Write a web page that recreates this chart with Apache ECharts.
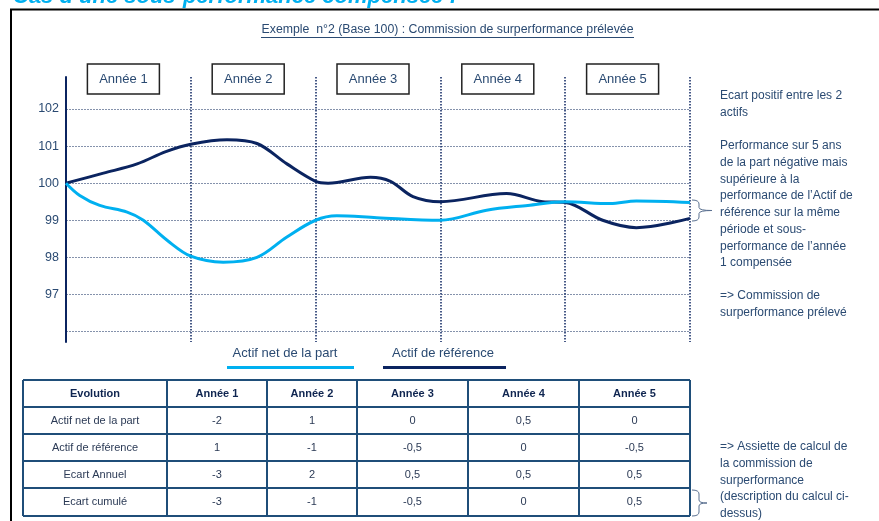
<!DOCTYPE html>
<html>
<head>
<meta charset="utf-8">
<script src="https://cdn.jsdelivr.net/npm/echarts@6/dist/echarts.min.js"></script>
<style>
  html, body { margin: 0; padding: 0; background: #fff; }
  #chart { width: 879px; height: 521px; }
</style>
</head>
<body>
<div id="chart"></div>
<script>
// values (x in years, y in base 100)
const years = ['Année 1', 'Année 2', 'Année 3', 'Année 4', 'Année 5']
const refCurve = [
  [0, 100], [0.3, 100.27], [0.57, 100.52], [0.8, 100.85], [1, 101.05],
  [1.29, 101.17], [1.53, 101.07], [1.77, 100.52], [2, 100.05], [2.1, 100.0],
  [2.44, 100.16], [2.6, 100.05], [2.78, 99.64], [3, 99.5], [3.53, 99.72],
  [3.82, 99.5], [4, 99.48], [4.3, 99.0], [4.57, 98.8], [5, 99.05]
]
const partCurve = [
  [0, 100], [0.11, 99.67], [0.27, 99.4], [0.49, 99.22], [0.62, 99.0],
  [0.81, 98.46], [1, 98.03], [1.26, 97.87], [1.53, 98.0], [1.77, 98.55],
  [2, 99.0], [2.17, 99.12], [2.49, 99.07], [3, 99.0], [3.37, 99.27],
  [3.7, 99.4], [4, 99.5], [4.36, 99.45], [4.57, 99.52], [5, 99.48]
]
const seriesNames = ['Actif net de la part', 'Actif de référence']

const tableHeader = ['Evolution', 'Année 1', 'Année 2', 'Année 3', 'Année 4', 'Année 5']
const rowLabels = ['Actif net de la part', 'Actif de référence', 'Ecart Annuel', 'Ecart cumulé']
const partRow = ['-2', '1', '0', '0,5', '0']
const refRow = ['1', '-1', '-0,5', '0', '-0,5']
const ecartAnnuel = ['-3', '2', '0,5', '0,5', '0,5']
const ecartCumule = ['-3', '-1', '-0,5', '0', '0,5']

const noteTop = ['Ecart positif entre les 2', 'actifs']
const noteMid = [
  'Performance sur 5 ans', 'de la part négative mais', 'supérieure à la',
  'performance de l\u2019Actif de', 'référence sur la même', 'période et sous-',
  'performance de l\u2019année', '1 compensée'
]
const noteEnd = ['=> Commission de', 'surperformance prélevé']
const noteTable = [
  '=> Assiette de calcul de', 'la commission de', 'surperformance',
  '(description du calcul ci-', 'dessus)'
]

const FONT = '"Liberation Sans", Arial, sans-serif'
const LIGHT = '#00B0F0'
const NAVY = '#0B2460'
const SLATE = '#2A4A72'

const chart = echarts.init(document.getElementById('chart'))

const graphics = []

// frame + cut title at the very top
graphics.push({
  type: 'rect', shape: { x: 11, y: 9.5, width: 900, height: 600 },
  style: { fill: 'none', stroke: '#000', lineWidth: 2 }, z: 10
})
graphics.push({
  type: 'text',
  style: { text: 'Cas d\u2019une sous-performance compensée :', x: 13, y: 8,
    font: 'italic bold 22px ' + FONT, fill: LIGHT, verticalAlign: 'bottom' }
})

// chart title, underlined
graphics.push({
  type: 'text',
  style: { text: 'Exemple  n°2 (Base 100) : Commission de surperformance prélevée',
    x: 447.5, y: 30, font: '12.3px ' + FONT, fill: SLATE, align: 'center', verticalAlign: 'middle' }
})
graphics.push({
  type: 'line', shape: { x1: 261, y1: 37.5, x2: 634, y2: 37.5 },
  style: { stroke: SLATE, lineWidth: 1 }
})

// year boxes
years.forEach((y, i) => {
  const cx = 66 + (i + 0.5) * 124.8 - 5
  graphics.push({
    type: 'rect', shape: { x: cx - 36, y: 64, width: 72, height: 30 },
    style: { fill: '#fff', stroke: '#222', lineWidth: 1.5 }
  })
  graphics.push({
    type: 'text',
    style: { text: y, x: cx, y: 79, font: '13px ' + FONT, fill: SLATE, align: 'center', verticalAlign: 'middle' }
  })
})

// legend: text above a thick line
const legendItems = [
  { name: seriesNames[0], color: LIGHT, tx: 285, x1: 227, x2: 354 },
  { name: seriesNames[1], color: NAVY, tx: 443, x1: 383, x2: 506 }
]
legendItems.forEach(it => {
  graphics.push({
    type: 'text',
    style: { text: it.name, x: it.tx, y: 353, font: '13px ' + FONT, fill: SLATE, align: 'center', verticalAlign: 'middle' }
  })
  graphics.push({
    type: 'line', shape: { x1: it.x1, y1: 367.5, x2: it.x2, y2: 367.5 },
    style: { stroke: it.color, lineWidth: 3 }
  })
})

// table
const colX = [23, 167, 267, 357, 468, 579, 690]
const rowY = [380, 407, 434, 461, 488, 516]
const body = [partRow, refRow, ecartAnnuel, ecartCumule]
const TB = '#1F4E79'
rowY.forEach(y => {
  graphics.push({ type: 'line', shape: { x1: colX[0], y1: y, x2: colX[6], y2: y }, style: { stroke: TB, lineWidth: 2 } })
})
colX.forEach(x => {
  graphics.push({ type: 'line', shape: { x1: x, y1: rowY[0], x2: x, y2: rowY[5] }, style: { stroke: TB, lineWidth: 2 } })
})
tableHeader.forEach((h, c) => {
  graphics.push({
    type: 'text',
    style: { text: h, x: (colX[c] + colX[c + 1]) / 2, y: (rowY[0] + rowY[1]) / 2,
      font: 'bold 11px ' + FONT, fill: '#0F2550', align: 'center', verticalAlign: 'middle' }
  })
})
body.forEach((row, r) => {
  const cells = [rowLabels[r]].concat(row)
  cells.forEach((v, c) => {
    graphics.push({
      type: 'text',
      style: { text: v, x: (colX[c] + colX[c + 1]) / 2, y: (rowY[r + 1] + rowY[r + 2]) / 2,
        font: '11px ' + FONT, fill: '#2B3A55', align: 'center', verticalAlign: 'middle' }
    })
  })
})

// side notes
const addLines = (lines, y0) => {
  lines.forEach((t, i) => {
    graphics.push({
      type: 'text',
      style: { text: t, x: 720, y: y0 + i * 16.7, font: '12px ' + FONT, fill: SLATE, verticalAlign: 'middle' }
    })
  })
}
addLines(noteTop, 96)
addLines(noteMid, 146)
addLines(noteEnd, 296)
addLines(noteTable, 447)

// curly braces: top cap, upper stem, tip, lower stem, bottom cap
const addBrace = (x, top, bottom, tip) => {
  const mid = (top + bottom) / 2
  const s = { fill: 'none', stroke: '#5A7090', lineWidth: 1 }
  const xs = x + 7
  graphics.push({ type: 'bezierCurve', shape: { x1: x, y1: top, cpx1: xs, cpy1: top, x2: xs, y2: top + 4 }, style: s })
  graphics.push({ type: 'line', shape: { x1: xs, y1: top + 4, x2: xs, y2: mid - 3 }, style: s })
  graphics.push({ type: 'bezierCurve', shape: { x1: xs, y1: mid - 3, cpx1: xs, cpy1: mid, x2: tip, y2: mid }, style: s })
  graphics.push({ type: 'bezierCurve', shape: { x1: tip, y1: mid, cpx1: xs, cpy1: mid, x2: xs, y2: mid + 3 }, style: s })
  graphics.push({ type: 'line', shape: { x1: xs, y1: mid + 3, x2: xs, y2: bottom - 4 }, style: s })
  graphics.push({ type: 'bezierCurve', shape: { x1: xs, y1: bottom - 4, cpx1: xs, cpy1: bottom, x2: x, y2: bottom }, style: s })
}
addBrace(692, 200, 221, 712)
addBrace(692, 490, 516, 707)

const option = {
  backgroundColor: '#fff',
  animation: false,
  grid: [
    { left: 66, right: 189, top: 109, bottom: 189.5 },
    { left: 66, right: 189, top: 77, bottom: 179 }
  ],
  xAxis: [
    { gridIndex: 0, type: 'value', min: 0, max: 5, show: false },
    {
      gridIndex: 1, type: 'value', min: 0, max: 5, interval: 1,
      axisLine: { show: false }, axisTick: { show: false }, axisLabel: { show: false },
      splitLine: { show: true, showMinLine: false, lineStyle: { color: NAVY, type: 'dotted', width: 1.5 } }
    }
  ],
  yAxis: [
    {
      gridIndex: 0, type: 'value', min: 96, max: 102, interval: 1,
      axisLine: { show: false }, axisTick: { show: false },
      axisLabel: {
        color: SLATE, fontSize: 12.5, fontFamily: FONT, margin: 7,
        formatter: v => (v === 96 ? '' : v)
      },
      splitLine: { lineStyle: { color: '#8592AC', type: [2, 1], width: 1 } }
    },
    {
      gridIndex: 1, type: 'value', min: 0, max: 1,
      axisLine: { show: true, lineStyle: { color: NAVY, width: 2 } },
      axisTick: { show: false }, axisLabel: { show: false }, splitLine: { show: false }
    }
  ],
  series: [
    {
      name: seriesNames[1], type: 'line', data: refCurve, smooth: 0.35,
      showSymbol: false, lineStyle: { color: NAVY, width: 3 }, z: 3
    },
    {
      name: seriesNames[0], type: 'line', data: partCurve, smooth: 0.35,
      showSymbol: false, lineStyle: { color: LIGHT, width: 3 }, z: 4
    }
  ],
  graphic: graphics
}

chart.setOption(option)
</script>
</body>
</html>
